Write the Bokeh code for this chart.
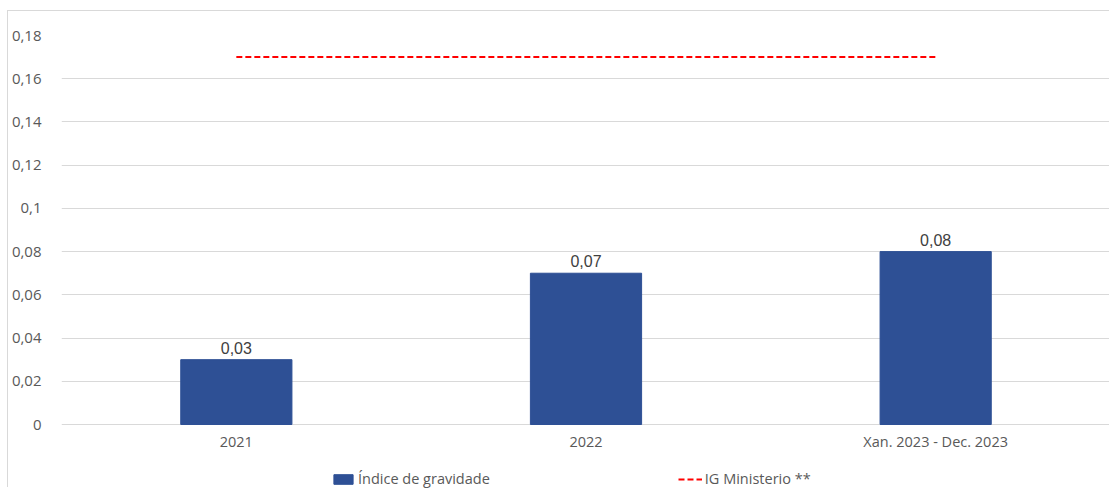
from bokeh.plotting import figure
from bokeh.models import ColumnDataSource, Range1d, FactorRange, FixedTicker, Legend, LegendItem
from bokeh.core.properties import value
from bokeh.embed import file_html
from bokeh.resources import INLINE

categories = ["2021", "2022", "Xan. 2023 - Dec. 2023"]
indice_gravidade = [0.03, 0.07, 0.08]
ig_ministerio = [0.17, 0.17, 0.17]
y_ticks = [0, 0.02, 0.04, 0.06, 0.08, 0.1, 0.12, 0.14, 0.16, 0.18]

FONT = "Open Sans"

def fmt(v):
    s = ("%.2f" % v).rstrip("0").rstrip(".")
    return s.replace(".", ",")

bar_src = ColumnDataSource(dict(cat=categories, val=indice_gravidade,
                                lbl=[fmt(v) for v in indice_gravidade]))
line_src = ColumnDataSource(dict(cat=categories, val=ig_ministerio))
cat_src = ColumnDataSource(dict(cat=categories, base=[0] * len(categories)))

# frame extends below zero to leave room for category labels and legend
Y_MAX = 0.18
Y_MIN = -Y_MAX * 64 / 389

p = figure(width=1102, height=477, x_range=FactorRange(*categories),
           y_range=Range1d(Y_MIN, Y_MAX), output_backend="svg", toolbar_location=None,
           min_border_left=49, min_border_right=0, min_border_top=24, min_border_bottom=0)
p.styles = {"margin-left": "7px", "margin-top": "10px",
            "border-left": "1px solid #d9d9d9", "border-top": "1px solid #d9d9d9"}
p.outline_line_color = None
p.x_range.range_padding = 0

bars = p.vbar(x="cat", top="val", width=0.318, source=bar_src, color="#2E5095")
ln = p.line(x="cat", y="val", source=line_src, line_color="#FF0000", line_width=2,
            line_dash="6 3")
p.text(x="cat", y="val", text="lbl", source=bar_src, text_align="center",
       text_baseline="bottom", y_offset=-6, text_font=value("Liberation Sans"),
       text_font_size="16px", text_color="#404040")
# category labels
p.text(x="cat", y="base", text="cat", source=cat_src, text_align="center",
       text_baseline="middle", y_offset=17, text_font=value(FONT),
       text_font_size="14.5px", text_color="#595959")

p.xaxis.visible = False
p.xgrid.grid_line_color = None
p.ygrid.grid_line_color = "#d9d9d9"
p.ygrid.grid_line_width = 1

p.yaxis.ticker = FixedTicker(ticks=y_ticks)
p.yaxis.major_label_overrides = {t: fmt(t) for t in y_ticks}
yax = p.yaxis[0]
yax.axis_line_color = None
yax.major_tick_line_color = None
yax.minor_tick_line_color = None
yax.major_label_text_font = FONT
yax.major_label_text_color = "#595959"
yax.major_label_text_font_size = "15px"
yax.major_label_standoff = 14

legend = Legend(items=[LegendItem(label="Índice de gravidade", renderers=[bars]),
                       LegendItem(label="IG Ministerio **", renderers=[ln])],
                orientation="horizontal", location=(270, 0),
                border_line_color=None, background_fill_alpha=0,
                padding=0, margin=0, spacing=188, glyph_width=24, glyph_height=12,
                label_height=16, label_standoff=3,
                label_text_font=FONT, label_text_font_size="14.5px",
                label_text_color="#595959")
p.add_layout(legend, "center")

open("out.html", "w").write(file_html(p, INLINE))
